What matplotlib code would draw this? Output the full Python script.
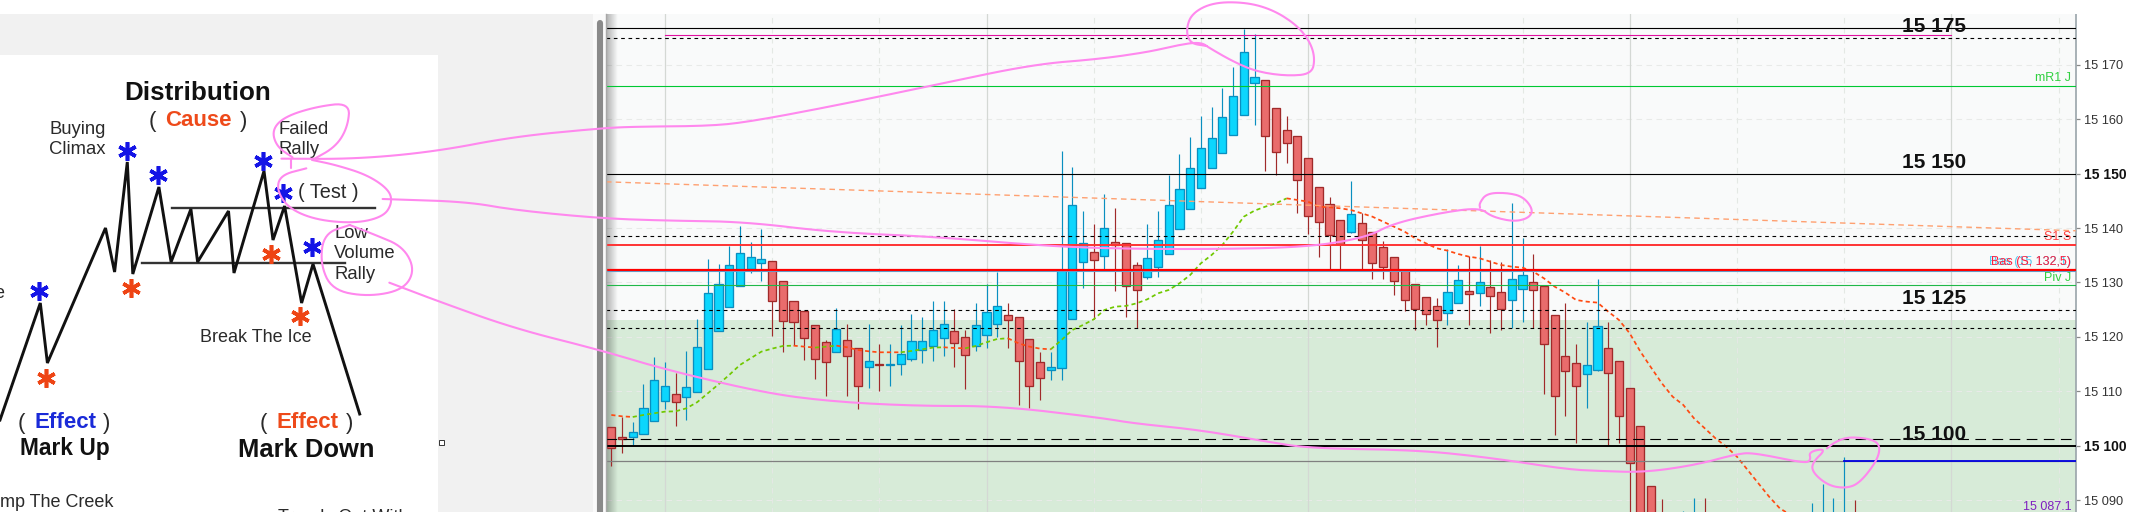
import numpy as np
import matplotlib
matplotlib.use('Agg')
import matplotlib.pyplot as plt
from matplotlib.transforms import blended_transform_factory

plt.rcParams['font.family'] = ['Liberation Sans', 'DejaVu Sans']

# prices are written as offsets from this level
base_price = 15100

opens = [3.49, 1.53, 1.53, 2.08, 4.47, 8.15, 9.56, 8.89, 9.81, 14.03, 21.02, 25.43, 29.29, 32.41, 33.52, 33.88,
         30.21, 26.53, 24.70, 22.12, 19.0, 17.16, 19.36, 17.89, 14.40, 14.95, 14.89, 14.95, 15.87, 17.53, 18.26,
         19.73, 21.02, 19.91, 18.26, 20.28, 22.30, 23.96, 23.59, 19.55, 15.32, 13.85, 14.22, 23.22, 33.70, 35.54,
         34.80, 37.38, 37.19, 33.15, 30.94, 32.78, 35.17, 39.77, 43.44, 47.30, 50.98, 53.74, 57.04, 60.72, 66.60,
         67.15, 62.0, 57.96, 56.86, 52.82, 47.49, 44.36, 41.42, 39.21, 40.87, 39.21, 36.46, 34.62, 32.29, 29.66,
         27.27, 25.61, 24.33, 26.16, 28.37, 28.0, 29.11, 28.19, 26.72, 28.74, 30.03, 29.29, 23.96, 16.42, 15.14,
         13.11, 13.85, 17.89, 15.50, 10.54, 3.56, -7.47]
closes = [-0.49, 1.16, 2.58, 6.86, 12.01, 11.03, 8.09, 10.72, 18.20, 28.0, 29.66, 33.15, 35.36, 34.62, 34.25, 26.53,
          22.86, 22.67, 19.73, 15.87, 15.32, 21.39, 16.42, 10.91, 15.50, 14.89, 14.95, 16.79, 19.18, 19.18, 21.2,
          22.30, 18.81, 16.61, 22.12, 24.51, 25.61, 23.04, 15.50, 10.91, 12.38, 14.40, 32.29, 44.18, 37.19, 34.07,
          39.95, 36.89, 29.29, 28.56, 34.44, 37.74, 44.18, 47.12, 50.98, 54.66, 56.49, 60.35, 64.21, 72.30, 67.71,
          56.86, 53.92, 55.57, 48.77, 42.16, 41.05, 38.66, 37.01, 42.52, 37.74, 33.52, 32.78, 30.21, 26.72, 25.06,
          24.14, 23.04, 28.19, 30.39, 27.82, 30.03, 27.45, 25.06, 30.58, 31.31, 28.56, 18.63, 9.07, 13.67, 10.91,
          14.77, 21.94, 13.30, 5.39, -3.24, -15, -15]
highs = [3.49, 5.33, 4.29, 11.34, 16.30, 15.38, 13.36, 17.40, 23.22, 34.25, 33.33, 36.70, 40.32, 37.38, 39.77, 33.88,
         30.21, 26.53, 24.70, 22.12, 19.36, 25.25, 22.30, 17.89, 22.30, 18.63, 18.63, 22.12, 24.14, 23.59, 26.53,
         26.53, 25.06, 21.2, 26.16, 29.66, 31.92, 26.16, 23.59, 19.55, 17.16, 17.28, 54.10, 51.16, 43.08, 40.69,
         46.20, 43.63, 37.19, 33.70, 40.69, 43.08, 49.69, 53.55, 56.68, 60.54, 62.19, 65.68, 69.54, 76.65, 75.67,
         67.15, 62.0, 60.54, 56.86, 52.82, 47.49, 45.65, 41.42, 48.59, 42.71, 39.21, 37.56, 34.62, 32.29, 29.66,
         27.27, 27.08, 36.09, 33.15, 34.80, 36.64, 34.07, 33.70, 44.55, 38.11, 35.17, 29.29, 23.96, 26.16, 18.63,
         22.67, 30.58, 22.67, 15.50, 10.54, 3.56, -7.47]
lows = [-3.67, -1.29, 0.12, 2.08, 4.47, 6.80, 3.68, 4.78, 9.81, 14.03, 21.02, 25.43, 29.29, 31.74, 30.33, 20.22,
        17.28, 18.57, 15.81, 12.32, 9.19, 17.16, 9.19, 6.80, 10.66, 10.11, 11.03, 13.05, 15.63, 15.14, 15.63,
        16.55, 14.52, 10.48, 17.47, 18.02, 19.91, 18.02, 7.54, 6.99, 8.46, 12.13, 12.13, 23.22, 29.04, 23.22,
        32.41, 28.49, 23.59, 21.57, 30.58, 31.07, 35.17, 39.77, 43.44, 47.30, 50.98, 53.74, 57.04, 60.72, 59.0,
        50.55, 49.69, 52.02, 42.71, 38.97, 34.62, 32.41, 32.41, 39.03, 32.41, 30.58, 30.58, 27.63, 24.69, 21.2,
        22.12, 18.08, 22.12, 26.16, 22.12, 25.61, 20.65, 21.2, 21.57, 22.67, 21.57, 9.56, 2.02, 5.52, 0.56,
        6.99, 13.67, 0.06, 0.56, -15, -15, -15]

# candles whose bodies are below the visible window, only the wick top shows
cut_idx = [98, 100, 101, 102, 112, 113, 114, 115, 116]
cut_highs = [-9.86, -12.0, -9.68, -9.68, -10.6, -7.1, -9.68, -2.14, -9.98]
cut_up = [False, True, True, False, True, True, True, True, False]

moving_avg = [5.64, 5.39, 5.27, 5.64, 5.95, 6.25, 6.31, 6.86, 7.97, 9.62, 11.27, 13.0, 14.83, 16.06, 17.28, 17.83,
              18.32, 18.38, 18.20, 18.02, 18.20, 18.38, 18.08, 17.59, 17.34, 17.16, 17.16, 17.16, 17.40, 17.71, 18.02,
              18.08, 17.96, 17.89, 18.32, 19.0, 19.61, 19.73, 18.81, 18.20, 17.83, 17.71, 19.43, 21.26, 22.18, 23.22,
              24.94, 25.55, 25.68, 26.16, 26.90, 28.0, 28.62, 29.84, 31.37, 33.52, 35.05, 36.89, 39.34, 42.09, 43.20,
              43.93, 44.55, 45.46, 45.16, 44.85, 43.93, 43.81, 43.63, 43.32, 42.71, 42.09, 41.18, 40.26, 39.34, 38.11,
              37.19, 36.27, 35.85, 35.23, 34.74, 34.44, 33.82, 33.21, 32.90, 32.72, 31.99, 30.76, 29.23, 28.12, 26.78,
              26.47, 26.29, 24.63, 23.10, 20.65, 17.28, 14.34, 11.46, 9.01, 7.48, 5.02, 3.19, 1.35, -0.18, -2.02,
              -4.47, -6.92, -9.37, -11.52, -12.74]

# level lines: price offset, colour, width, dash
short_dash = (0, (3.3, 3.3))
levels = [
    (76.7, '#000000', 0.8, '-'),
    (74.9, '#000000', 0.8, short_dash),
    (66.05, '#00c832', 0.8, '-'),
    (50.0, '#000000', 0.8, '-'),
    (38.5, '#000000', 0.8, short_dash),
    (36.9, '#ff3333', 1.4, '-'),
    (32.1, '#55aadd', 0.8, '-'),
    (32.3, '#ff0000', 1.6, '-'),
    (29.5, '#20b848', 0.8, '-'),
    (24.9, '#000000', 0.8, short_dash),
    (21.6, '#000000', 0.8, short_dash),
    (1.2, '#000000', 0.8, (0, (9.6, 5.8))),
    (0.0, '#000000', 1.4, '-'),
    (-2.9, '#808080', 0.9, '-'),
]
round_levels = [15175, 15150, 15125, 15100]
price_ticks = [15090, 15100, 15110, 15120, 15130, 15140, 15150, 15160, 15170]
bold_ticks = [15100, 15150]
grid_solid = [5, 35, 65, 95, 125]
grid_dashed = [15, 25, 45, 55, 75, 85, 105, 115, 135]
side_labels = [
    (67.5, 'mR1 J', '#30d040'),
    (38.4, 'S1 S', '#ff4040'),
    (33.7, 'Bas (15 132,1)', '#50c8f0'),
    (33.7, 'Bas (S, 132,5)', '#ff2040'),
    (30.9, 'Piv J', '#30d040'),
    (-11.3, '15 087.1', '#8020c0'),
]

# left hand drawing, figure pixels
wave_x = [0, 40.3, 47.4, 105.5, 114.6, 127.3, 132.8, 158.9, 171.1, 190.9, 197.6, 228.5, 234, 264, 273, 284.6, 301.6, 313, 359.7]
wave_y = [420, 303, 363, 228, 272, 162, 274, 187, 262, 209, 262, 211, 273, 171, 240, 206, 303, 264, 414]
blue_stars = [(126.5, 150.7), (158, 175), (263, 160.7), (283.4, 193), (312, 246.7), (38.7, 290.7)]
red_stars = [(131, 288), (271, 254), (299.6, 316), (45.5, 377.7)]

# pen strokes: (x, y) in crop units
pen_rally_z1 = [(790, 480), (850, 440), (880, 380), (885, 308), (800, 320), (720, 350), (688, 390), (700, 440), (740, 472)]
pen_a_z1 = [(712, 476), (900, 477), (1100, 455), (1300, 410)]
pen_a_z2 = [(0, 385), (100, 380), (330, 378), (450, 365), (700, 318), (1000, 256), (1300, 193)]
pen_a_z3 = [(0, 177), (150, 155), (220, 138), (300, 125), (330, 145), (400, 185), (470, 215), (560, 228), (635, 222),
            (645, 175), (630, 125), (590, 75), (520, 30), (440, 7), (340, 7), (275, 40), (258, 90), (270, 130), (320, 138)]
pen_b_z1a = [(775, 505), (710, 525), (700, 570), (730, 625), (800, 660), (900, 670), (970, 650), (992, 610), (985, 570),
             (930, 525), (850, 495), (790, 480)]
pen_b_z1 = [(968, 597), (1180, 605), (1300, 630)]
pen_b_z2 = [(0, 655), (200, 662), (430, 665), (700, 697), (1000, 710), (1300, 735)]
pen_b_z3 = [(0, 745), (300, 748), (620, 742), (800, 712), (880, 670), (1030, 637), (1140, 623), (1175, 650), (1240, 665),
            (1285, 655), (1300, 630), (1270, 590), (1220, 578), (1160, 580), (1138, 610), (1140, 623)]
pen_c_z1a = [(885, 675), (820, 700), (810, 790), (840, 870), (930, 890), (1020, 870), (1050, 810), (1020, 740), (950, 705), (885, 675)]
pen_c_z1 = [(985, 848), (1100, 900), (1300, 985)]
pen_c_z2 = [(0, 1050), (200, 1110), (500, 1180), (700, 1205), (950, 1218), (1200, 1218)]
pen_c_z3 = [(0, 1253), (100, 1270), (300, 1290), (500, 1325), (630, 1345), (950, 1350), (1170, 1373), (1400, 1408)]
pen_c_z4 = [(0, 1413), (130, 1417), (280, 1395), (400, 1362), (450, 1358), (600, 1390), (618, 1380), (612, 1355), (665, 1345),
            (620, 1390), (625, 1420), (670, 1457), (720, 1465), (760, 1450), (810, 1385), (822, 1340), (800, 1318), (730, 1310),
            (690, 1325), (665, 1345)]


def crop_px(pts, left, xscale):
    return [(left + x / xscale, y / 3) for x, y in pts]


def z1(pts):
    return crop_px(pts, 0, 2.53)


def z2(pts):
    return crop_px(pts, 600, 3)


def z3(pts):
    return crop_px(pts, 1100, 3)


def z4(pts):
    return crop_px(pts, 1600, 2.93)


def smooth(pts, rounds=3):
    # corner cutting so the pen strokes do not look like polylines
    pts = np.array(pts, dtype=float)
    for _ in range(rounds):
        a = pts[:-1] * 0.75 + pts[1:] * 0.25
        b = pts[:-1] * 0.25 + pts[1:] * 0.75
        mid = np.empty((a.shape[0] * 2, 2))
        mid[0::2] = a
        mid[1::2] = b
        pts = np.vstack([pts[:1], mid, pts[-1:]])
    return pts


W, H = 2135, 512
fig = plt.figure(figsize=(W / 100, H / 100), dpi=100, facecolor='white')

# price chart
chart_left, chart_right, chart_top = 606, 2076, 14
ax = fig.add_axes([chart_left / W, 0, (chart_right - chart_left) / W, (H - chart_top) / H], facecolor='#f9fafa')

n = len(opens)
idx = np.arange(n)
opens = np.array(opens) + base_price
closes = np.array(closes) + base_price
highs = np.array(highs) + base_price
lows = np.array(lows) + base_price
up = closes >= opens

ax.axhspan(15000, 15123.1, color='#d7ebd8', zorder=0, lw=0)
for p in price_ticks:
    if p not in bold_ticks:
        ax.axhline(p, color='#e8eae8', lw=0.8, ls=(0, (5, 4)), zorder=1)
ax.vlines(grid_solid, 15000, 15200, color='#d4d8d4', lw=0.9, zorder=1)
ax.vlines(grid_dashed, 15000, 15200, color='#e4e8e4', lw=0.8, ls=(0, (5, 4)), zorder=1)

ax.vlines(idx[up], lows[up], highs[up], color='#0a8fc0', lw=0.85, zorder=2)
ax.vlines(idx[~up], lows[~up], highs[~up], color='#a02a2a', lw=0.85, zorder=2)
ax.bar(idx[up], (closes - opens)[up], bottom=opens[up], width=0.76, color='#0cd6fd', edgecolor='#0a8fc0', lw=0.95, zorder=3)
ax.bar(idx[~up], (closes - opens)[~up], bottom=opens[~up], width=0.76, color='#e96c6c', edgecolor='#a02a2a', lw=0.95, zorder=3)

for i, top, is_up in zip(cut_idx, cut_highs, cut_up):
    ax.vlines(i, 15000, base_price + top, color='#0a8fc0' if is_up else '#a02a2a', lw=0.85, zorder=2)

# dotted moving average, green rising and red falling
ma = np.array(moving_avg) + base_price
rising = np.diff(ma) > 0
start = 0
for i in range(1, len(rising) + 1):
    if i == len(rising) or rising[i] != rising[start]:
        col = '#70c800' if rising[start] else '#ff4a12'
        ax.plot(np.arange(start, i + 1), ma[start:i + 1], color=col, lw=1.25, ls=(0, (2.4, 1.8)), zorder=4)
        start = i

for off, col, lw, ls in levels:
    ax.axhline(base_price + off, color=col, lw=lw, ls=ls, zorder=5)
ax.plot([5, 125], [15175.4, 15175.4], color='#e010a0', lw=0.8, zorder=5)
ax.plot([115, 137], [15097.2, 15097.2], color='#0000e0', lw=1.3, zorder=5)
ax.plot([-0.5, 136.6], [15148.5, 15139.5], color='#ffa070', lw=1.0, ls=(0, (4, 3)), zorder=5)

for lv in round_levels:
    ax.text(123.4, lv + 2, f'{lv // 1000} {lv % 1000:03d}', fontsize=15, fontweight='bold', color='#111111',
            ha='center', va='center', zorder=6)
for off, txt, col in side_labels:
    ax.text(136.2, base_price + off, txt, fontsize=9, color=col, ha='right', va='center', zorder=6)

ax.set_xlim((chart_left - 611.3) / 10.72, (chart_right - 611.3) / 10.72)
ax.set_ylim(15087.8, 15179.35)

# soft shadow along the left edge
shade = np.zeros((1, 40, 4))
shade[0, :, 3] = np.linspace(0.3, 0, 40)
ax.imshow(shade, extent=(0, 0.008, 0, 1), transform=ax.transAxes, aspect='auto', zorder=1.5)
ax.set_xlim((chart_left - 611.3) / 10.72, (chart_right - 611.3) / 10.72)
ax.set_ylim(15087.8, 15179.35)

for side in ['top', 'left', 'bottom']:
    ax.spines[side].set_visible(False)
ax.spines['right'].set_color('#9aa4aa')
ax.spines['right'].set_linewidth(1.2)
ax.set_xticks([])
ax.yaxis.tick_right()
ax.set_yticks(price_ticks)
ax.set_yticklabels([f'{p // 1000} {p % 1000:03d}' for p in price_ticks], fontsize=9.2, color='#333333')
for lab, p in zip(ax.get_yticklabels(), price_ticks):
    if p in bold_ticks:
        lab.set_fontweight('bold')
        lab.set_fontsize(10)
        lab.set_color('#111111')
ax.tick_params(axis='y', length=3, width=0.9, color='#888888', pad=3)
# next tick up, mostly hidden by the band above the chart
ax.text(1.0055, 15180, '15 180', transform=blended_transform_factory(ax.transAxes, ax.transData), fontsize=9.2,
        color='#333333', va='center', clip_on=False)

# everything outside the price scale, in figure pixels
ov = fig.add_axes([0, 0, 1, 1], facecolor='none')
ov.set_xlim(0, W)
ov.set_ylim(H, 0)
ov.axis('off')

ov.fill_between([0, 593], 14, H, color='#f1f1f1', lw=0, zorder=0)
ov.fill_between([0, 438], 55, H, color='#ffffff', lw=0, zorder=0.5)
ov.fill_between([593, 606], 14, H, color='#fafafa', lw=0, zorder=0)
ov.plot([600, 600], [23, H + 5], color='#8a8a8a', lw=4.4, solid_capstyle='round', zorder=1)
ov.plot([605.5, 605.5], [14, H], color='#a8a8a8', lw=1.0, zorder=1)
ov.plot([441], [441.7], marker='s', ms=3.6, mfc='white', mec='#333333', mew=0.7, zorder=1)

# drawing
ov.plot([172, 375], [208, 208], color='#333333', lw=1.7, zorder=2)
ov.plot([141.5, 345], [263, 263], color='#333333', lw=1.7, zorder=2)
ov.plot(wave_x, wave_y, color='#111111', lw=2.1, solid_joinstyle='miter', zorder=3)
ov.plot(*zip(*blue_stars), ls='none', marker=(6, 2, 0), ms=13.5, mew=2.6, color='#1414e6', zorder=3)
ov.plot(*zip(*red_stars), ls='none', marker=(6, 2, 0), ms=13.5, mew=2.6, color='#ee4414', zorder=3)

dark = '#2a2a2a'
ov.text(197.6, 93, 'Distribution', fontsize=18.7, fontweight='bold', color='#111111', ha='center', va='center')
ov.text(152, 122, '(', fontsize=16, color=dark, ha='center', va='center')
ov.text(198, 121, 'Cause', fontsize=16, fontweight='bold', color='#ee4a1a', ha='center', va='center')
ov.text(244, 122, ')', fontsize=16, color=dark, ha='center', va='center')
ov.text(49.4, 130, 'Buying', fontsize=13.3, color=dark, va='center')
ov.text(49.4, 150, 'Climax', fontsize=13.3, color=dark, va='center')
ov.text(278.7, 129, 'Failed', fontsize=13.3, color=dark, va='center')
ov.text(278.7, 150, 'Rally', fontsize=13.3, color=dark, va='center')
ov.text(328.5, 193, '( Test )', fontsize=14.3, color=dark, ha='center', va='center')
ov.text(334, 234, 'Low', fontsize=13.3, color=dark, va='center')
ov.text(334, 254, 'Volume', fontsize=13.3, color=dark, va='center')
ov.text(334, 274.7, 'Rally', fontsize=13.3, color=dark, va='center')
ov.text(255.7, 337.7, 'Break The Ice', fontsize=13, color=dark, ha='center', va='center')
ov.text(21.7, 423, '(', fontsize=16, color=dark, ha='center', va='center')
ov.text(65, 422, 'Effect', fontsize=16, fontweight='bold', color='#1a2ad8', ha='center', va='center')
ov.text(106.7, 423, ')', fontsize=16, color=dark, ha='center', va='center')
ov.text(263.6, 423, '(', fontsize=16, color=dark, ha='center', va='center')
ov.text(307, 422, 'Effect', fontsize=16, fontweight='bold', color='#ee4a1a', ha='center', va='center')
ov.text(350, 423, ')', fontsize=16, color=dark, ha='center', va='center')
ov.text(64.4, 449, 'Mark Up', fontsize=16.4, fontweight='bold', color='#111111', ha='center', va='center')
ov.text(306.3, 450, 'Mark Down', fontsize=18.4, fontweight='bold', color='#111111', ha='center', va='center')
ov.text(114, 502.7, 'mp The Creek', fontsize=13, color=dark, ha='right', va='center')
ov.text(4, 293, 'e', fontsize=13, color=dark, ha='right', va='center')
ov.text(343, 509, 'Trends Out With', fontsize=13, color=dark, ha='center', va='top', clip_on=True)

# white band above the panels
ov.fill_between([0, W], -1, 14, color='white', lw=0, zorder=0.7)

strokes = [
    z1(pen_rally_z1),
    z1(pen_a_z1) + z2(pen_a_z2) + z3(pen_a_z3),
    z1([(735, 478), (735, 505)]),
    z1(pen_b_z1a),
    z1(pen_b_z1) + z2(pen_b_z2) + z3(pen_b_z3),
    z1(pen_c_z1a),
    z1(pen_c_z1) + z2(pen_c_z2) + z3(pen_c_z3) + z4(pen_c_z4),
]
for st in strokes:
    xy = smooth(st)
    ov.plot(xy[:, 0], xy[:, 1], color='#ff88ee', lw=1.5, solid_capstyle='round', zorder=8)

fig.savefig('out.png', dpi=100)
